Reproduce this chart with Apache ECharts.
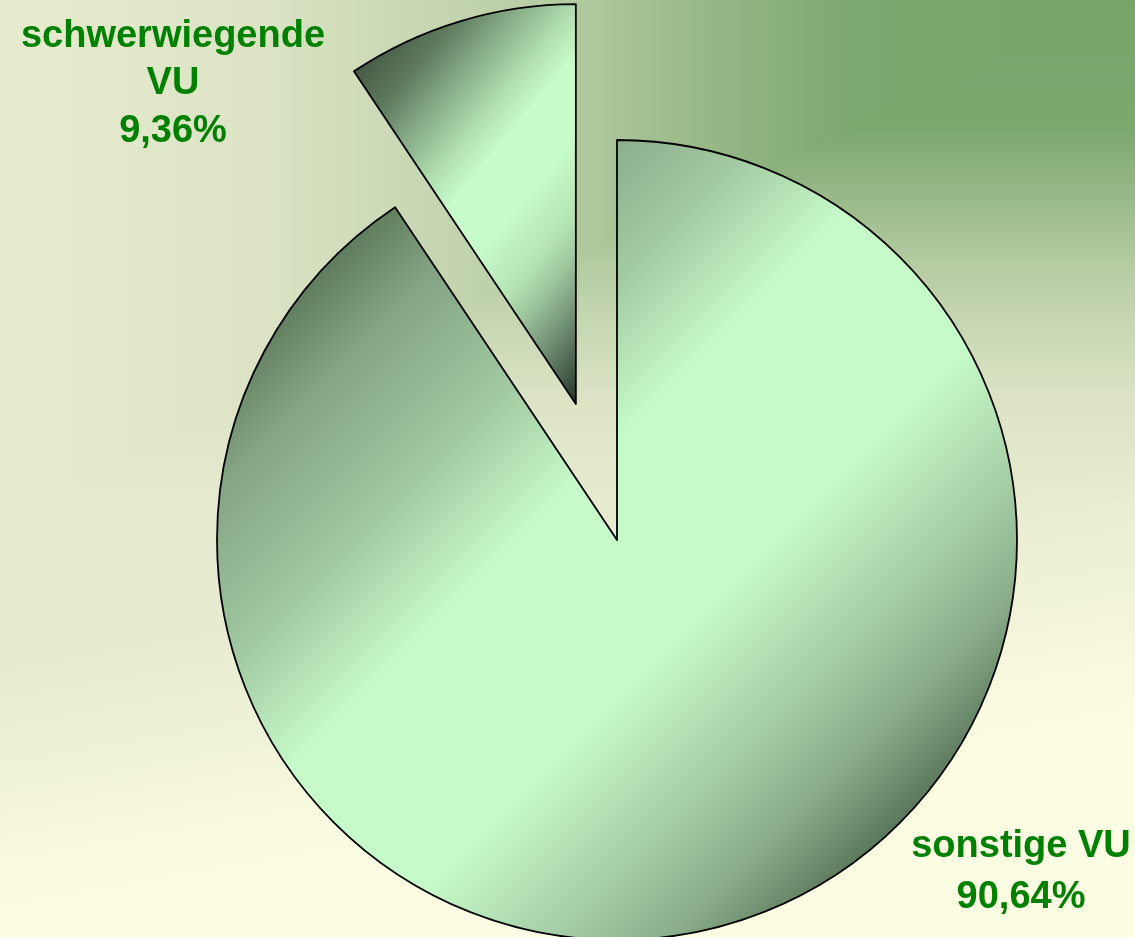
<!DOCTYPE html>
<html>
<head>
<meta charset="utf-8">
<title>Verkehrsunfälle – Anteil schwerwiegender VU</title>
<script src="https://cdn.jsdelivr.net/npm/echarts@6/dist/echarts.min.js"></script>
<style>
  html, body { margin: 0; padding: 0; overflow: hidden; }
  #chart { width: 1135px; height: 937px; }
</style>
</head>
<body>
<div id="chart"></div>
<script>
// Categories and their shares in percent
const categories = ['sonstige VU', 'schwerwiegende VU'];
const shares = [90.64, 9.36];
// The slice pulled out of the pie
const explodedIndex = 1;

const W = 1135, H = 937;
const CENTER = [617, 540];
const RADIUS = 400;
const FONT = "'Liberation Sans', Arial, sans-serif";
const LABEL_GREEN = '#008000';

// Diagonal light-green sheen with darkened edges for the large slice,
// spanning the circle from its upper-left to its lower-right tangent point
const d45 = RADIUS * Math.SQRT1_2;
const bigFill = {
  type: 'linear', global: true,
  x: CENTER[0] - d45, y: CENTER[1] - d45,
  x2: CENTER[0] + d45, y2: CENTER[1] + d45,
  colorStops: [
    { offset: 0.00, color: '#5f7d5c' },
    { offset: 0.10, color: '#84a484' },
    { offset: 0.27, color: '#a2caa2' },
    { offset: 0.41, color: '#c6fac8' },
    { offset: 0.64, color: '#c6fac8' },
    { offset: 0.80, color: '#a4cca4' },
    { offset: 0.90, color: '#8aac8a' },
    { offset: 1.00, color: '#5a785a' }
  ]
};
// Same sheen for the small slice, its light band runs steeper
const smallFill = {
  type: 'linear', x: 0, y: 0.166, x2: 1.32, y2: 0.784,
  colorStops: [
    { offset: 0.00, color: '#445844' },
    { offset: 0.12, color: '#5e7a5e' },
    { offset: 0.22, color: '#86aa86' },
    { offset: 0.33, color: '#aedcae' },
    { offset: 0.42, color: '#c8fcca' },
    { offset: 0.55, color: '#c8fcca' },
    { offset: 0.68, color: '#b4e4b4' },
    { offset: 0.75, color: '#9ec69e' },
    { offset: 0.87, color: '#66826a' },
    { offset: 1.00, color: '#263226' }
  ]
};

function pct(v) {
  return v.toFixed(2).replace('.', ',') + '%';
}

const pieData = categories.map((name, i) => ({
  name: name,
  value: shares[i],
  selected: i === explodedIndex,
  itemStyle: { color: i === explodedIndex ? smallFill : bigFill }
}));

// Where each label block is centred, and its line spacing
const labelSpots = [
  { x: 1021, y: 872, lineHeight: 51.6 },
  { x: 173, y: 84, lineHeight: 47.5 }
];

const labelTexts = categories.map((name, i) => ({
  type: 'text',
  silent: true,
  z: 10,
  x: labelSpots[i].x,
  y: labelSpots[i].y,
  style: {
    text: (i === explodedIndex ? name.replace(' ', '\n') : name) + '\n' + pct(shares[i]),
    fill: LABEL_GREEN,
    font: 'bold 38px ' + FONT,
    lineHeight: labelSpots[i].lineHeight,
    align: 'center',
    verticalAlign: 'middle'
  }
}));

// Backdrop: cream ground with a rectangular green glow out of the upper right corner.
// The glow strength falls off with max(horizontal distance / 2.2, vertical distance).
const GLOW_REACH = 500;   // vertical reach of the glow, px
const GLOW_STRETCH = 2.2; // horizontal reach relative to vertical
const glowStops = [[0, 1], [0.26, 0.95], [0.40, 0.69], [0.52, 0.45], [0.63, 0.30], [0.80, 0.09], [1, 0]];
const GROUND = [230, 234, 206];
const GLOW = [119, 165, 106];
function mixGlow(f) {
  const c = GROUND.map((g, k) => Math.round(g + f * (GLOW[k] - g)));
  return 'rgb(' + c.join(',') + ')';
}

const backdrop = [
  {
    type: 'rect', silent: true, z: -3,
    shape: { x: 0, y: 0, width: W, height: H },
    style: {
      fill: {
        type: 'linear', global: true, x: 567, y: 550, x2: 615, y2: 822,
        colorStops: [
          { offset: 0, color: '#e6eace' },
          { offset: 1, color: '#fdfde3' }
        ]
      }
    }
  },
  {
    // glow by vertical distance from the top edge
    type: 'rect', silent: true, z: -2,
    shape: { x: 0, y: 0, width: W, height: H },
    style: {
      fill: {
        type: 'linear', global: true, x: 0, y: 0, x2: 0, y2: GLOW_REACH,
        colorStops: glowStops.map(([o, f]) => ({
          offset: o, color: 'rgba(' + GLOW.join(',') + ',' + f + ')'
        }))
      }
    }
  },
  {
    // glow by horizontal distance from the right edge; the lighter of the two wins
    type: 'rect', silent: true, z: -1,
    shape: { x: 0, y: 0, width: W, height: H },
    style: {
      blend: 'lighten',
      fill: {
        type: 'linear', global: true,
        x: W, y: 0, x2: W - GLOW_STRETCH * GLOW_REACH, y2: 0,
        colorStops: glowStops.map(([o, f]) => ({ offset: o, color: mixGlow(f) }))
      }
    }
  }
];

const chart = echarts.init(document.getElementById('chart'), null, { renderer: 'canvas' });

chart.setOption({
  animation: false,
  graphic: backdrop.concat(labelTexts),
  series: [
    {
      type: 'pie',
      center: CENTER,
      radius: RADIUS,
      startAngle: 90,
      clockwise: true,
      selectedMode: 'single',
      selectedOffset: 142,
      emphasis: { disabled: true },
      itemStyle: { borderColor: '#000', borderWidth: 1.8 },
      label: { show: false },
      labelLine: { show: false },
      data: pieData
    }
  ]
});
</script>
</body>
</html>
